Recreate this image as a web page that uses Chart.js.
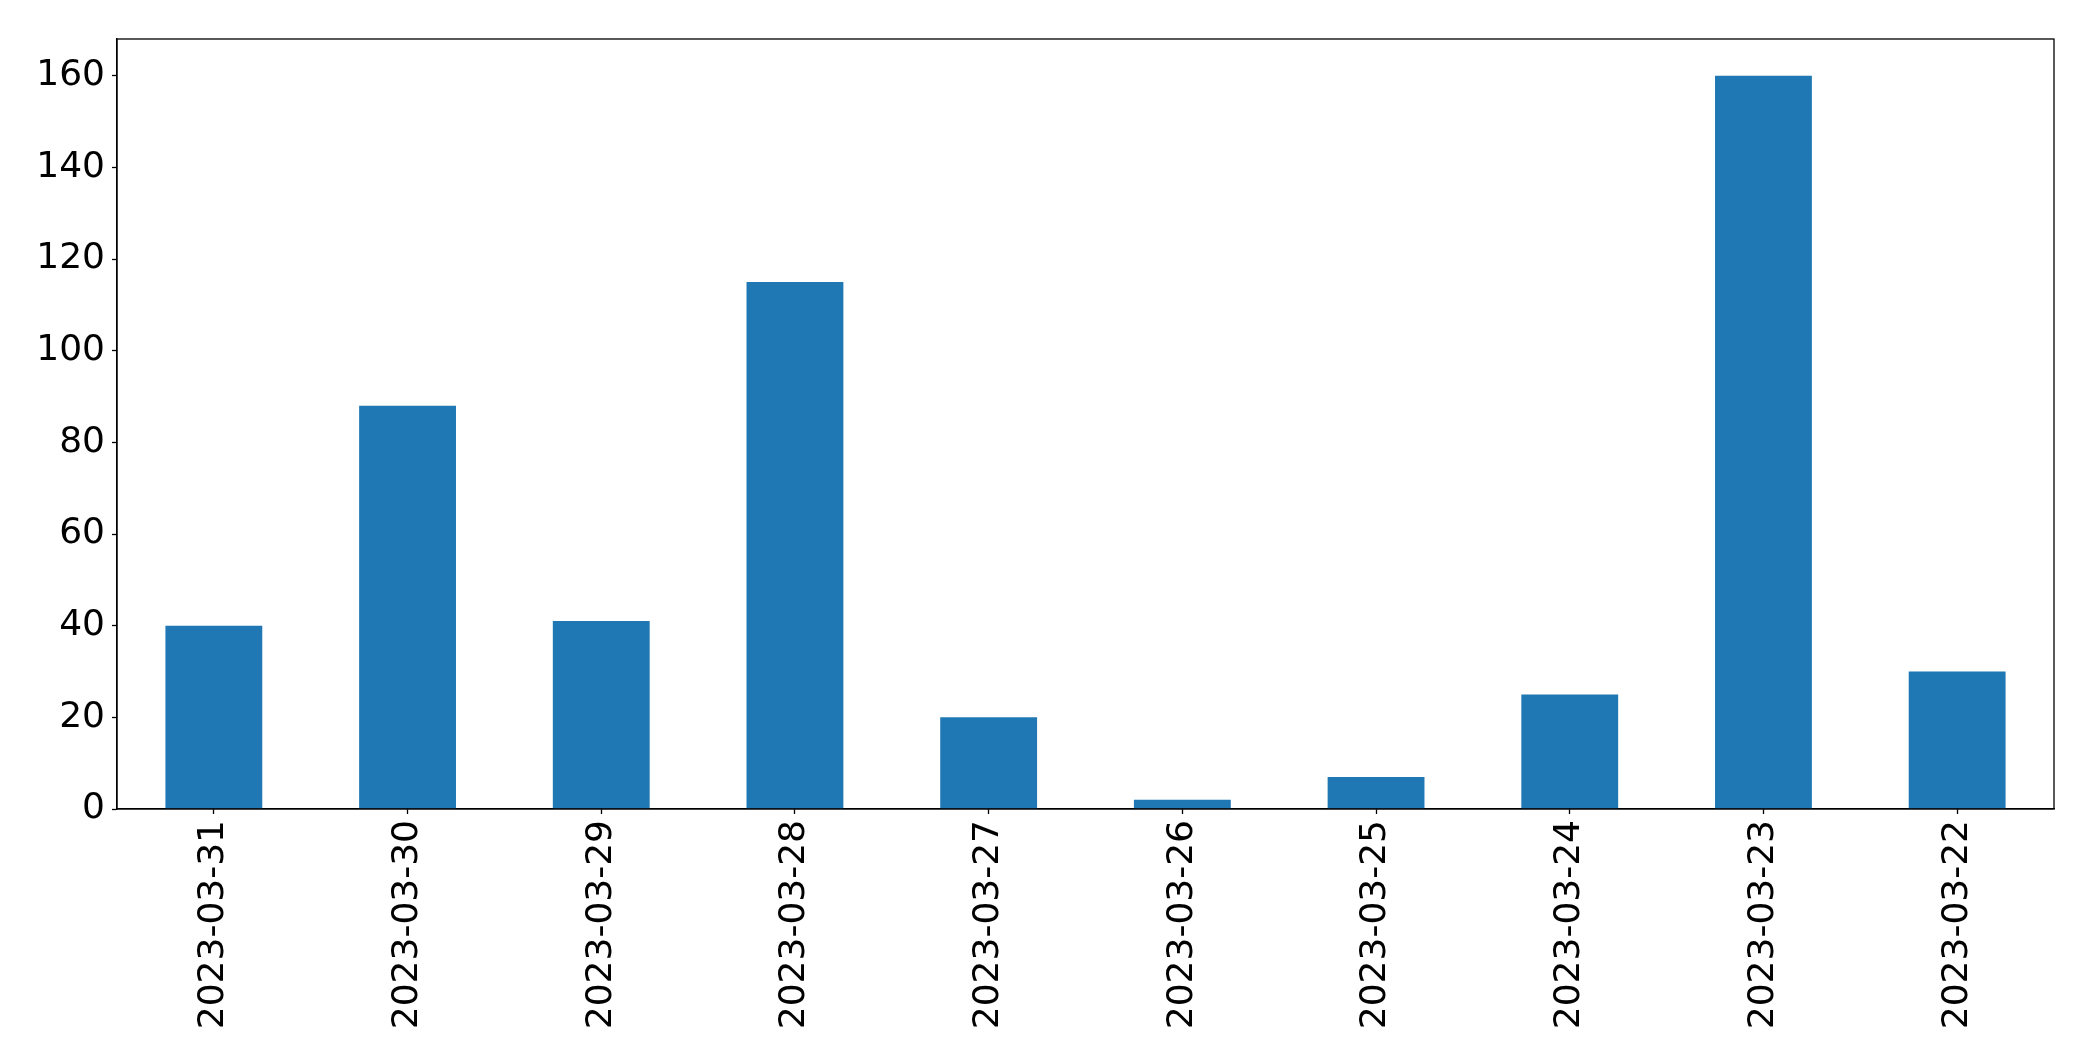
<!DOCTYPE html>
<html>
<head>
<meta charset="utf-8">
<script src="https://cdn.jsdelivr.net/npm/chart.js@4"></script>
<style>
  html, body { margin: 0; padding: 0; background: #fff; }
  #wrap { width: 2093px; height: 1061px; }
</style>
</head>
<body>
<div id="wrap"><canvas id="canvas"></canvas></div>
<script>
let dates = ['2023-03-31', '2023-03-30', '2023-03-29', '2023-03-28', '2023-03-27',
             '2023-03-26', '2023-03-25', '2023-03-24', '2023-03-23', '2023-03-22']
let counts = [40, 88, 41, 115, 20, 2, 7, 25, 160, 30]
let yTicks = [0, 20, 40, 60, 80, 100, 120, 140, 160]

// matplotlib-like box round the plot area
let frame = {
  id: 'frame',
  afterDraw: function(chart) {
    let a = chart.chartArea
    let ctx = chart.ctx
    ctx.save()
    ctx.strokeStyle = '#000'
    ctx.lineWidth = 1.3
    ctx.strokeRect(a.left, a.top, a.right - a.left, a.bottom - a.top)
    ctx.restore()
  }
}

let renderChart = function() {
  let ctx = document.getElementById('canvas').getContext('2d')

  window.my_chart = new Chart(ctx, {
    type: 'bar',
    data: {
      labels: dates,
      datasets: [
        {
          label: 'count',
          backgroundColor: '#1f77b4',
          data: counts,
          categoryPercentage: 1.0,
          barPercentage: 0.5
        }
      ]
    },
    options: {
      responsive: true,
      maintainAspectRatio: false,
      animation: false,
      layout: { padding: { top: 39, right: 39, left: 0, bottom: 0 } },
      plugins: {
        legend: { display: false },
        tooltip: { enabled: false }
      },
      scales: {
        x: {
          grid: { display: true, offset: false, drawOnChartArea: false, tickLength: 5, color: '#000', tickWidth: 1.3 },
          border: { display: true, color: '#000', width: 1.3 },
          ticks: {
            autoSkip: false,
            minRotation: 90,
            maxRotation: 90,
            padding: 6,
            color: '#000',
            font: { family: 'DejaVu Sans', size: 36 }
          },
          afterFit: function(scale) { scale.height = 252 }
        },
        y: {
          min: 0,
          max: 168,
          grid: { display: true, drawOnChartArea: false, tickLength: 5, color: '#000', tickWidth: 1.3 },
          border: { display: true, color: '#000', width: 1.3 },
          ticks: {
            padding: 7,
            color: '#000',
            font: { family: 'DejaVu Sans', size: 36 }
          },
          afterBuildTicks: function(scale) {
            scale.ticks = yTicks.map(v => ({ value: v }))
          },
          afterFit: function(scale) { scale.width = 117 }
        }
      }
    },
    plugins: [frame]
  })
}

renderChart()
</script>
</body>
</html>
